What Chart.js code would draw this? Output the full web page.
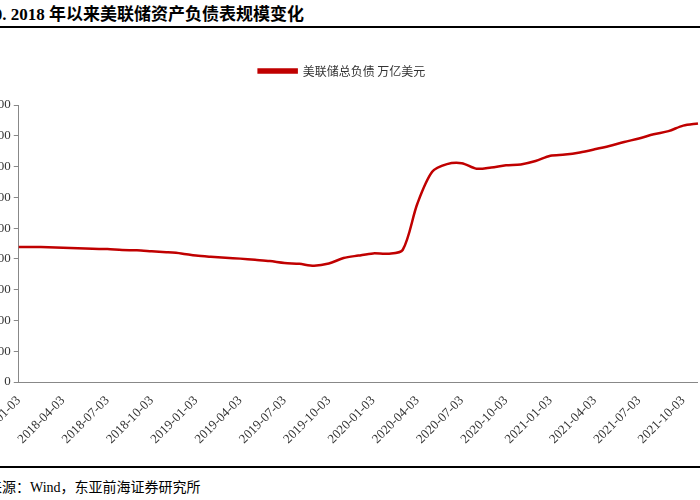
<!DOCTYPE html>
<html><head><meta charset="utf-8">
<script src="https://cdn.jsdelivr.net/npm/chart.js@4"></script>
<style>
body{margin:0;background:#fff;overflow:hidden;font-family:"Liberation Serif","Noto Sans CJK SC",serif;}
#wrap{position:absolute;left:-28px;top:0;width:740px;height:500px;}
#title{position:absolute;left:-25px;top:0;font-weight:bold;font-size:17px;white-space:nowrap;}
#top{position:absolute;left:0;top:26px;width:740px;border-top:2px solid #000;}
#bot{position:absolute;left:0;top:466px;width:740px;border-top:2px solid #000;}
#src{position:absolute;left:-12px;top:476px;font-size:14px;white-space:nowrap;}
#cv{position:absolute;left:0;top:55px;width:740px;height:395px;}
</style></head><body>
<div id="wrap">
<div id="title">图表 20. 2018 年以来美联储资产负债表规模变化</div>
<div id="top"></div>
<div id="cv"><canvas id="c"></canvas></div>
<div id="bot"></div>
<div id="src">资料来源：Wind，东亚前海证券研究所</div>
</div>
<script>
const labels=["2018-01-03","2018-02-03","2018-03-03","2018-04-03","2018-05-03","2018-06-03","2018-07-03","2018-08-03","2018-09-03","2018-10-03","2018-11-03","2018-12-03",
"2019-01-03","2019-02-03","2019-03-03","2019-04-03","2019-05-03","2019-06-03","2019-07-03","2019-08-03","2019-09-03","2019-10-03","2019-11-03","2019-12-03",
"2020-01-03","2020-02-03","2020-03-03","2020-04-03","2020-05-03","2020-06-03","2020-07-03","2020-08-03","2020-09-03","2020-10-03","2020-11-03","2020-12-03",
"2021-01-03","2021-02-03","2021-03-03","2021-04-03","2021-05-03","2021-06-03","2021-07-03","2021-08-03","2021-09-03","2021-10-03","2021-11-03"];
const values=[43900,43900,43800,43600,43500,43300,43200,42900,42800,42500,42200,41800,
41100,40700,40400,40100,39700,39300,38700,38400,37800,38500,40300,41100,
41800,41700,42900,58000,68300,70800,71100,69300,69700,70400,70700,71800,
73500,73900,74600,75600,76700,78000,79100,80500,81500,83300,84000];
const seriesName="美联储总负债 万亿美元";
const tickLabels=["2018-01-03","2018-04-03","2018-07-03","2018-10-03","2019-01-03","2019-04-03","2019-07-03","2019-10-03","2020-01-03","2020-04-03","2020-07-03","2020-10-03","2021-01-03","2021-04-03","2021-07-03","2021-10-03"];
const legendSpace={id:'ls',beforeInit(chart){const f=chart.legend.fit;chart.legend.fit=function(){f.call(this);this.height+=18;};}};
new Chart(document.getElementById('c'),{type:'line',
data:{labels,datasets:[{label:seriesName,data:values,borderColor:'#C00000',backgroundColor:'#C00000',borderWidth:2.5,pointRadius:0,tension:0.3}]},
plugins:[legendSpace],
options:{responsive:true,maintainAspectRatio:false,animation:false,
layout:{padding:{left:0,right:0,top:0,bottom:0}},
plugins:{legend:{labels:{boxWidth:38,boxHeight:3,font:{size:12,family:'"Noto Sans CJK SC"'},color:'#333'}},tooltip:{enabled:false}},
scales:{x:{grid:{display:false},border:{color:'#888'},ticks:{autoSkip:false,maxRotation:45,minRotation:45,color:'#333',font:{size:13,family:'"Liberation Serif"'},
 callback:function(v){const l=this.getLabelForValue(v);return tickLabels.includes(l)?l:'';}}},
y:{min:0,max:90000,grid:{display:true,drawOnChartArea:false,drawTicks:true,tickLength:5,color:'#888'},border:{color:'#888'},ticks:{stepSize:10000,color:'#333',font:{size:13,family:'"Liberation Serif"'},callback:v=>v.toLocaleString('en-US')}}}}});
</script></body></html>
